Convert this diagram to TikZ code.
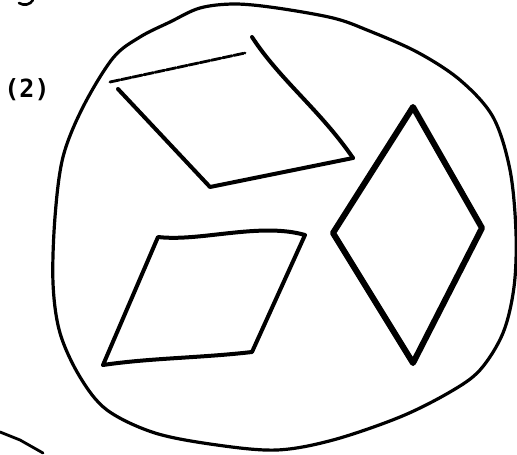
\documentclass[tikz,border=0pt]{standalone}
\usepackage{fontspec}
\setmonofont{DejaVu Sans Mono}
\usetikzlibrary{arrows.meta, positioning}

\begin{document}
\begin{tikzpicture}[>=Stealth, x=1pt, y=-1pt,
    outline/.style={line width=3.2pt, line cap=round, line join=round},
    tile/.style={line width=4pt, line cap=round, line join=round},
    heavy/.style={line width=6pt, line cap=round, line join=round}]
  \useasboundingbox (0,0) rectangle (517,455);

  % Label
  \node[font=\ttfamily\bfseries\fontsize{25}{28}\selectfont] (lbl) at (27,90) {(2)};

  % Stray pen marks at the edges
  \draw[line width=2.6pt, line cap=round] (19,3) .. controls (24,6) and (30,5) .. (33,0);
  \draw[line width=2.8pt, line cap=round] (0,432) -- (20,440) -- (43,453);

  % Outer boundary
  \draw[outline] plot[smooth cycle, tension=0.55] coordinates {
    (235,4) (277,8) (333,18) (367,30) (417,52) (460,80) (493,117)
    (510,170) (516,233) (514,287) (503,333) (480,370) (450,392)
    (400,417) (333,440) (277,450) (217,445) (155,433) (107,410)
    (80,377) (60,333) (53,283) (55,217) (63,157) (83,107) (113,58)
    (140,37) (170,22) (200,8)};

  % Upper tile
  \draw[tile, line width=2.8pt, dash pattern=on 10pt off 1.5pt] (110,82) -- (245,53);
  \draw[tile] (118,89) -- (210,187) -- (353,158);
  \draw[tile] (353,158) .. controls (320,110) and (280,80) .. (252,37);

  % Lower tile
  \draw[tile] (103,365) -- (158,237)
    .. controls (200,242) and (260,222) .. (305,235)
    -- (252,352)
    .. controls (200,358) and (150,358) .. (103,365);

  % Right tile
  \coordinate (top) at (413,107);
  \coordinate (rgt) at (482,228);
  \coordinate (bot) at (413,363);
  \coordinate (lft) at (333,233);
  \draw[heavy] (top) -- (rgt) -- (bot) -- (lft) -- cycle;
\end{tikzpicture}
\end{document}
